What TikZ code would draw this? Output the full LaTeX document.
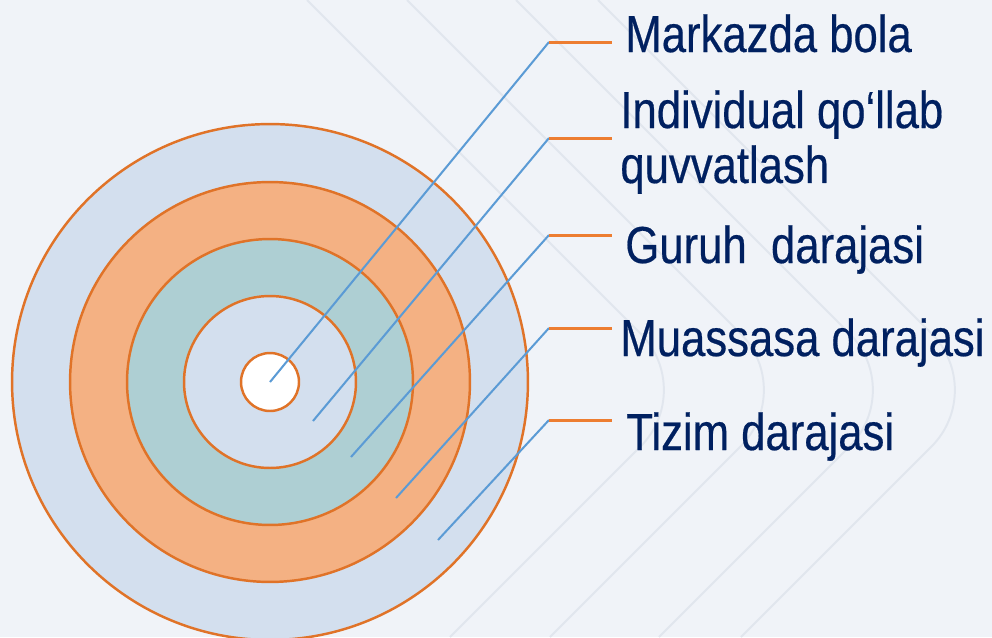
\documentclass[tikz,border=0pt]{standalone}
\usepackage{fontspec}
\setmainfont[FakeStretch=0.84,FakeBold=0.4]{Liberation Sans}
\definecolor{pagebg}{HTML}{F0F3F8}
\definecolor{decoline}{HTML}{E1E6EE}
\definecolor{ringline}{HTML}{E07328}
\definecolor{tickorange}{HTML}{ED7D31}
\definecolor{leaderblue}{HTML}{5B9BD5}
\definecolor{textblue}{HTML}{002060}
\definecolor{paleblue}{HTML}{D3DFEE}
\definecolor{paleorange}{HTML}{F4B183}
\definecolor{paleteal}{HTML}{AECFD3}
\begin{document}
\begin{tikzpicture}[x=0.02cm, y=-0.02cm,
                    ring/.style={circle, draw=ringline, line width=1.4pt, inner sep=0pt},
                    leader/.style={draw=leaderblue, line width=1.15pt},
                    tick/.style={draw=tickorange, line width=1.7pt},
                    lbl/.style={anchor=base west, inner sep=0pt, text=textblue, font=\fontsize{29.6}{31}\selectfont},
                    deco/.style={draw=decoline, line width=1.1pt, rounded corners=1.6cm}]
\useasboundingbox (0,0) rectangle (992,637);
\fill[pagebg] (0,0) rectangle (992,637);

% faint chevrons of the slide background
\begin{scope}
\clip (0,0) rectangle (992,637);
\draw[deco] (307,0) -- (697,390) -- (450,637);
\draw[deco] (407,0) -- (797,390) -- (550,637);
\draw[deco] (516,0) -- (906,390) -- (659,637);
\draw[deco] (598,0) -- (988,390) -- (741,637);
\end{scope}

% levels, outside in
\node[ring, fill=paleblue, minimum size=10.32cm] (tizim) at (270,382) {};
\node[ring, fill=paleorange, minimum size=8cm] (muassasa) at (270,382) {};
\node[ring, fill=paleteal, minimum size=5.72cm] (guruh) at (270,382) {};
\node[ring, fill=paleblue, minimum size=3.44cm] (individual) at (270,382) {};
\node[ring, fill=white, minimum size=1.16cm] (bola) at (270,382) {};

% labels
\node[lbl] (lbola) at (625,52) {Markazda bola};
\node[lbl] (lindiv) at (620,128) {Individual qo‘llab};
\node[lbl] (lindiv2) at ([yshift=-1.1cm]lindiv.base west) {quvvatlash};
\node[lbl] (lguruh) at (625,263) {Guruh\ \ darajasi};
\node[lbl] (lmuassasa) at (620,356) {Muassasa darajasi};
\node[lbl] (ltizim) at (626,450) {Tizim darajasi};

% leaders
\coordinate (a2) at (313,421);
\coordinate (a3) at (351,457);
\coordinate (a4) at (396,498);
\coordinate (a5) at (438,540);
\coordinate (k1) at (549,42);
\coordinate (k2) at (549,138);
\coordinate (k3) at (549,235);
\coordinate (k4) at (549,328);
\coordinate (k5) at (549,420);
\coordinate (e1) at (612,42);
\coordinate (e2) at (612,138);
\coordinate (e3) at (612,235);
\coordinate (e4) at (612,328);
\coordinate (e5) at (612,420);

\draw[leader] (bola.center) -- (k1);
\draw[leader] (a2) -- (k2);
\draw[leader] (a3) -- (k3);
\draw[leader] (a4) -- (k4);
\draw[leader] (a5) -- (k5);
\draw[tick] (k1) -- (e1);
\draw[tick] (k2) -- (e2);
\draw[tick] (k3) -- (e3);
\draw[tick] (k4) -- (e4);
\draw[tick] (k5) -- (e5);
\end{tikzpicture}
\end{document}
